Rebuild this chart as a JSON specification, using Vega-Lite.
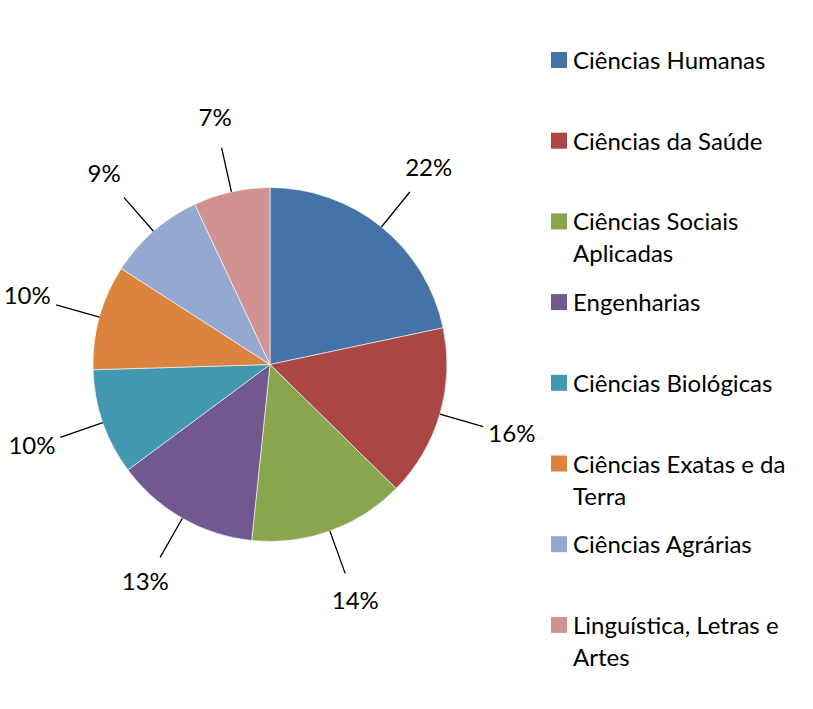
{
  "$schema": "https://vega.github.io/schema/vega-lite/v6.json",
  "width": 540,
  "height": 729,
  "autosize": {"type": "none"},
  "padding": {"left": 0, "top": 0, "right": 273, "bottom": 0},
  "background": "#ffffff",
  "config": {
    "view": {"stroke": null},
    "font": "Lato",
    "style": {"guide-label": {"lineHeight": 32, "dy": 9}}
  },
  "data": {
    "values": [
      {"area": "Ciências Humanas", "value": 0.217},
      {"area": "Ciências da Saúde", "value": 0.157},
      {"area": "Ciências Sociais Aplicadas", "value": 0.143},
      {"area": "Engenharias", "value": 0.132},
      {"area": "Ciências Biológicas", "value": 0.097},
      {"area": "Ciências Exatas e da Terra", "value": 0.096},
      {"area": "Ciências Agrárias", "value": 0.089},
      {"area": "Linguística, Letras e Artes", "value": 0.070}
    ]
  },
  "encoding": {
    "theta": {"field": "value", "type": "quantitative", "stack": true},
    "order": {"field": "value", "type": "quantitative", "sort": "descending"}
  },
  "layer": [
    {
      "mark": {"type": "arc", "outerRadius": 177, "stroke": "#ffffff", "strokeWidth": 0.6},
      "encoding": {
        "color": {
          "field": "area",
          "type": "nominal",
          "scale": {
            "domain": ["Ciências Humanas", "Ciências da Saúde", "Ciências Sociais Aplicadas", "Engenharias", "Ciências Biológicas", "Ciências Exatas e da Terra", "Ciências Agrárias", "Linguística, Letras e Artes"],
            "range": ["#4572A7", "#AA4643", "#89A54E", "#71588F", "#4198AF", "#DB843D", "#93A9CF", "#D19392"]
          },
          "legend": {
            "title": null,
            "orient": "none",
            "legendX": 547,
            "legendY": 48,
            "padding": 0,
            "symbolType": "square",
            "symbolSize": 256,
            "symbolStrokeWidth": 0,
            "symbolOpacity": 1,
            "labelFont": "Lato",
            "labelFontSize": 24,
            "labelColor": "#000000",
            "labelOffset": 2,
            "labelLimit": 400,
            "labelBaseline": "alphabetic",
            "gridAlign": "all",
            "rowPadding": 22.7,
            "labelExpr": "datum.label == 'Ciências Sociais Aplicadas' ? ['Ciências Sociais', 'Aplicadas'] : datum.label == 'Ciências Exatas e da Terra' ? ['Ciências Exatas e da', 'Terra'] : datum.label == 'Linguística, Letras e Artes' ? ['Linguística, Letras e', 'Artes'] : datum.label"
          }
        }
      }
    },
    {
      "mark": {"type": "arc", "radius": 222, "radius2": 177, "padAngle": 3.1, "fill": "transparent", "stroke": "#000000", "strokeWidth": 1.3},
      "encoding": {}
    },
    {
      "mark": {"type": "text", "radius": 252, "font": "Lato", "fontSize": 24, "color": "#000000", "align": "center", "baseline": "middle"},
      "encoding": {
        "text": {"field": "value", "type": "quantitative", "format": ".0%"}
      }
    }
  ]
}
